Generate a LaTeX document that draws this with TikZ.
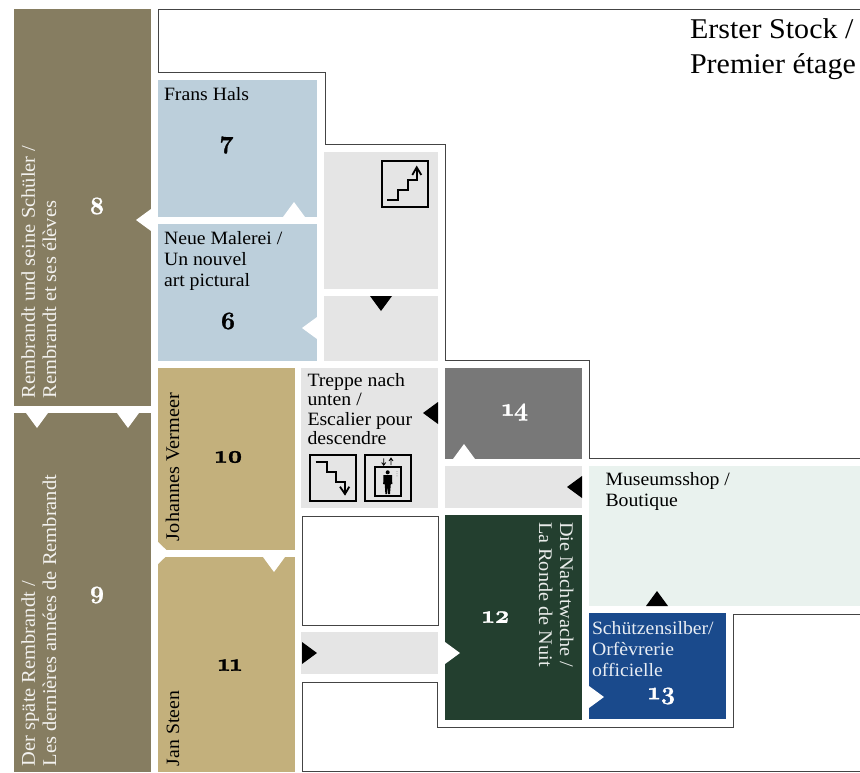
\documentclass[tikz,border=0pt]{standalone}
\usepackage{fontspec}
\setmainfont{Liberation Serif}[FakeStretch=1.05]
\newfontfamily\numfont{Latin Modern Roman}[Numbers=OldStyle,BoldFeatures={FakeBold=1.2}]
\definecolor{olive}{HTML}{867D61}
\definecolor{bluegrey}{HTML}{BCCFDB}
\definecolor{tan}{HTML}{C3B07C}
\definecolor{lightgrey}{HTML}{E5E5E5}
\definecolor{midgrey}{HTML}{787878}
\definecolor{darkgreen}{HTML}{233F2F}
\definecolor{paleshop}{HTML}{E9F2EE}
\definecolor{royal}{HTML}{1A4A8C}
\definecolor{wallcol}{HTML}{444444}
\tikzset{
  x=1pt,y=-1pt,
  roomshape/.style={rectangle,draw=none,inner sep=0pt,outer sep=0pt},
  lbl/.style={inner sep=0pt,outer sep=0pt,anchor=base west,align=left,font=\fontsize{18.8}{21}\selectfont},
  vlbl/.style={lbl,rotate=90,font=\fontsize{19.5}{21}\selectfont},
  dlbl/.style={lbl,rotate=-90,font=\fontsize{19.3}{21}\selectfont},
  numlbl/.style={inner sep=0pt,outer sep=0pt,font=\numfont\bfseries\fontsize{25}{25}\selectfont},
  wall/.style={draw=wallcol,line width=1pt,line join=miter},
  icon/.style={draw=black,line width=1.8pt,line join=miter},
}
\newcommand{\room}[6]{\node[roomshape,fill=#6,minimum width={#3-#1},minimum height={#4-#2}] (#5) at ({(#1+#3)/2},{(#2+#4)/2}) {};}
\begin{document}
\begin{tikzpicture}
\useasboundingbox (0,0) rectangle (860,772);
\fill[white] (0,0) rectangle (860,772);
% walls
\draw[wall] (860,9.5) -- (158.5,9.5) -- (158.5,72) -- (325,72) -- (325,144.5) -- (445.7,144.5) -- (445.7,360) -- (589.5,360) -- (589.5,458.5) -- (860,458.5);
\draw[wall] (860,614) -- (733,614) -- (733,727.5) -- (437.5,727.5) -- (437.5,682) -- (302,682) -- (302,771.5) -- (860,771.5);
\draw[wall] (302,516) rectangle (438,625);
% rooms
\room{14}{9}{151}{406}{r8}{olive}
\room{14}{413}{151}{772}{r9}{olive}
\room{158}{80}{317}{217}{r7}{bluegrey}
\room{158}{224}{317}{361}{r6}{bluegrey}
\room{158}{368}{295}{550}{r10}{tan}
\room{158}{557}{295}{772}{r11}{tan}
\room{324}{152}{438}{289}{g1}{lightgrey}
\room{324}{296}{438}{361}{g2}{lightgrey}
\room{301}{368}{438}{508}{g3}{lightgrey}
\room{445}{368}{582}{459}{r14}{midgrey}
\room{445}{466}{582}{508}{g4}{lightgrey}
\room{445}{515}{582}{720}{r12}{darkgreen}
\room{589}{466}{860}{606}{shop}{paleshop}
\room{589}{613}{726}{719}{r13}{royal}
\room{301}{632}{438}{674}{g5}{lightgrey}
% white triangles
\fill[white] (151,209) -- (151,231) -- (136,220) -- cycle;
\fill[white] (283,217) -- (305,217) -- (294,202) -- cycle;
\fill[white] (317,317) -- (317,339) -- (302,328) -- cycle;
\fill[white] (453,459) -- (475,459) -- (464,444) -- cycle;
\fill[white] (26,413) -- (48,413) -- (37,428) -- cycle;
\fill[white] (117,413) -- (139,413) -- (128,428) -- cycle;
\fill[white] (158,542) -- (158,564) -- (169.5,553) -- cycle;
\fill[white] (263,557) -- (285,557) -- (274,572) -- cycle;
\fill[white] (445,642) -- (445,664) -- (460,653) -- cycle;
\fill[white] (589,686) -- (589,708) -- (604,697) -- cycle;
% black triangles
\fill[black] (370,296) -- (392,296) -- (381,311) -- cycle;
\fill[black] (438,402) -- (438,424) -- (423,413) -- cycle;
\fill[black] (582,476) -- (582,498) -- (567,487) -- cycle;
\fill[black] (302,642) -- (302,664) -- (317,653) -- cycle;
\fill[black] (646,606) -- (668,606) -- (657,591) -- cycle;
% labels (anchored at the baseline of the last line)
\node[lbl] (t7) at (164,100) {Frans Hals};
\node[lbl] (t6) at (164,286) {Neue Malerei /\\Un nouvel\\art pictural};
\node[lbl,font=\fontsize{18.8}{19.5}\selectfont] (tstairs) at (307.5,444.5) {Treppe nach\\unten /\\Escalier pour\\descendre};
\node[lbl] (tshop) at (605.5,506.5) {Museumsshop /\\Boutique};
\node[lbl,text=white!90!royal] (t13) at (592,676) {Schützensilber/\\Orfèvrerie\\officielle};
\node[vlbl,text=white!90!olive] (t8) at (56,398) {Rembrandt und seine Schüler /\\Rembrandt et ses élèves};
\node[vlbl,text=white!90!olive] (t9) at (56,766) {Der späte Rembrandt /\\Les dernières années de Rembrandt};
\node[vlbl,font=\fontsize{19.3}{21}\selectfont] (t10) at (179,541) {Johannes Vermeer};
\node[vlbl,font=\fontsize{18.8}{21}\selectfont] (t11) at (179,766) {Jan Steen};
\node[dlbl,text=white!90!darkgreen] (t12) at (539,522) {Die Nachtwache /\\La Ronde de Nuit};
\node[lbl,font=\fontsize{28.6}{35}\selectfont] (thead) at (690,73) {Erster Stock /\\Premier étage};
% numbers
\node[numlbl,text=white] (n8) at (97,206) {8};
\node[numlbl,text=white] (n9) at (97,595) {9};
\node[numlbl] (n7) at (227,145) {7};
\node[numlbl] (n6) at (228,321) {6};
\node[numlbl] (n10) at (229,457) {10};
\node[numlbl] (n11) at (230,665) {11};
\node[numlbl,text=white] (n12) at (496,617) {12};
\node[numlbl,text=white] (n13) at (662,696) {13};
\node[numlbl,text=white] (n14) at (515,412) {14};
% stairs up icon
\draw[icon] (381.7,160.7) rectangle (428,206.7);
\draw[icon] (387.3,200) -- (398.3,200) -- (398.3,190) -- (407.7,190) -- (407.7,180) -- (416.7,180) -- (416.7,168);
\draw[icon] (412.3,175) -- (416.7,167.3) -- (421.3,175);
% stairs down icon
\draw[icon] (309.7,454.7) rectangle (356,500.7);
\draw[icon] (315.7,461.7) -- (326.7,461.7) -- (326.7,471.7) -- (336,471.7) -- (336,481.7) -- (345,481.7) -- (345,493);
\draw[icon] (340,486.7) -- (345,494) -- (349.3,486.7);
% lift icon
\draw[icon] (364.7,454.7) rectangle (410.7,500.7);
\draw[icon] (374.7,467.3) rectangle (401,496);
\draw[black,line width=.8pt] (383.7,458.3) -- (383.7,465) (381.7,462.5) -- (383.7,465.3) -- (385.7,462.5);
\draw[black,line width=.8pt] (391,458.3) -- (391,465) (389,461) -- (391,458) -- (393,461);
\fill[black] (387.7,472.3) circle (2);
\fill[black] (383.5,475) -- (392,475) -- (392.3,484) -- (390.8,484) -- (390,494) -- (388.2,494) -- (387.7,485) -- (387.2,494) -- (385.4,494) -- (384.7,484) -- (383.2,484) -- cycle;
\fill[black!60] (397,471.5) circle (.45) (397,473.7) circle (.45) (397,475.9) circle (.45);
\end{tikzpicture}
\end{document}
